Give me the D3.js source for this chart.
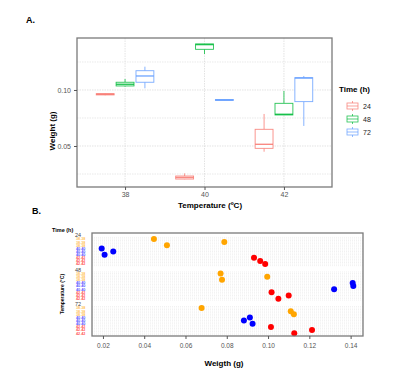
<!DOCTYPE html>
<html>
<head>
<meta charset="utf-8">
<script src="https://cdn.jsdelivr.net/npm/d3@7"></script>
<style>
  body { margin: 0; background: #fff; }
  svg { font-family: "Liberation Sans", Arial, sans-serif; }
</style>
</head>
<body>
<div id="chart"></div>
<script>
// ---- data ----
// panel A: weight boxplots by temperature and time
const temps = [38, 40, 42];
const times = ["24", "48", "72"];
const timeColors = ["#F8766D", "#00BA38", "#619CFF"];
// [min, q1, median, q3, max] per temperature (38, 40, 42)
const box24 = [[0.0953, 0.0956, 0.0962, 0.0967, 0.0970], [0.0203, 0.0205, 0.0219, 0.0232, 0.0256], [0.0449, 0.0479, 0.0515, 0.0649, 0.0786]];
const box48 = [[0.1031, 0.1036, 0.1051, 0.1069, 0.1098], [0.1321, 0.1363, 0.1405, 0.1411, 0.1411], [0.0777, 0.0777, 0.0783, 0.0881, 0.0991]];
const box72 = [[0.1015, 0.1069, 0.1125, 0.1172, 0.1208], [0.0906, 0.0908, 0.0911, 0.0915, 0.0917], [0.0679, 0.0896, 0.1106, 0.1110, 0.1125]];
const yTicksA = [0.05, 0.10];
const yMinorA = [0.025, 0.075, 0.125];

// panel B: individual weights, rows = temperature replicates within each time
const tempRows = ["38", "38", "38", "40", "40", "40", "42", "42", "42"];
const tempColors = { "38": "#FFA500", "40": "#0000FF", "42": "#FF0000" };
const weight24 = [0.0447, 0.0788, 0.0510, 0.0194, 0.0250, 0.0208, 0.0932, 0.0962, 0.0986];
const weight48 = [0.0770, 0.0996, 0.0777, 0.1410, 0.1413, 0.1320, 0.1017, 0.1100, 0.1050];
const weight72 = [0.0678, 0.1110, 0.1125, 0.0912, 0.0883, 0.0925, 0.1014, 0.1213, 0.1127];
const xTicksB = [0.02, 0.04, 0.06, 0.08, 0.10, 0.12, 0.14];

const boxes = [box24, box48, box72];
const weights = [weight24, weight48, weight72];

const svg = d3.select("#chart").append("svg")
  .attr("width", 403)
  .attr("height", 380);

// ================= Panel A =================
const A = { left: 77, right: 332, top: 38, bottom: 187 };

const xA = d3.scaleLinear().domain([36.79, 43.21]).range([A.left, A.right]);
const yA = d3.scaleLinear().domain([0.0134, 0.1464]).range([A.bottom, A.top]);
const dodge = 0.5, boxW = 0.45;

svg.append("text").attr("x", 26).attr("y", 23)
  .style("font-weight", "bold").style("font-size", "9px").text("A.");

// gridlines
const gA = svg.append("g");
gA.selectAll(".minor").data(yMinorA).enter().append("line")
  .attr("x1", A.left).attr("x2", A.right)
  .attr("y1", d => yA(d)).attr("y2", d => yA(d))
  .attr("stroke", "#e3e3e3").attr("stroke-width", 0.8).attr("stroke-dasharray", "1.5,1");
gA.selectAll(".major").data(yTicksA).enter().append("line")
  .attr("x1", A.left).attr("x2", A.right)
  .attr("y1", d => yA(d)).attr("y2", d => yA(d))
  .attr("stroke", "#dcdcdc").attr("stroke-width", 0.8).attr("stroke-dasharray", "1.5,1");
gA.selectAll(".vgrid").data(temps).enter().append("line")
  .attr("y1", A.top).attr("y2", A.bottom)
  .attr("x1", d => xA(d)).attr("x2", d => xA(d))
  .attr("stroke", "#dcdcdc").attr("stroke-width", 0.8).attr("stroke-dasharray", "1.5,1");

// boxplots
times.forEach((t, ti) => {
  const g = svg.append("g").attr("stroke", timeColors[ti]).attr("fill", "none").attr("stroke-opacity", 0.85);
  temps.forEach((temp, k) => {
    const s = boxes[ti][k];
    const cx = temp + (ti - 1) * dodge;
    const x0 = xA(cx - boxW / 2), x1 = xA(cx + boxW / 2);
    g.append("line").attr("x1", xA(cx)).attr("x2", xA(cx))
      .attr("y1", yA(s[0])).attr("y2", yA(s[1])).attr("stroke-width", 0.9);
    g.append("line").attr("x1", xA(cx)).attr("x2", xA(cx))
      .attr("y1", yA(s[3])).attr("y2", yA(s[4])).attr("stroke-width", 0.9);
    g.append("rect").attr("x", x0).attr("width", x1 - x0)
      .attr("y", yA(s[3])).attr("height", Math.max(1, yA(s[1]) - yA(s[3])))
      .attr("fill", "#fff").attr("stroke-width", 0.9);
    g.append("line").attr("x1", x0).attr("x2", x1)
      .attr("y1", yA(s[2])).attr("y2", yA(s[2])).attr("stroke-width", 1.4);
  });
});

// panel border
svg.append("rect").attr("x", A.left).attr("y", A.top)
  .attr("width", A.right - A.left).attr("height", A.bottom - A.top)
  .attr("fill", "none").attr("stroke", "#7a7a7a").attr("stroke-width", 1.3);

// axes
const xAxisA = svg.append("g").attr("transform", "translate(0," + A.bottom + ")")
  .call(d3.axisBottom(xA).tickValues(temps).tickSize(3).tickPadding(2).tickFormat(d3.format("d")));
const yAxisA = svg.append("g").attr("transform", "translate(" + A.left + ",0)")
  .call(d3.axisLeft(yA).tickValues(yTicksA).tickSize(3).tickPadding(3).tickFormat(d3.format(".2f")));
[xAxisA, yAxisA].forEach(ax => {
  ax.select(".domain").remove();
  ax.selectAll("line").attr("stroke", "#555");
  ax.selectAll("text").attr("fill", "#555").style("font-size", "7px").style("font-family", "inherit");
});

svg.append("text").attr("x", 210).attr("y", 208).attr("text-anchor", "middle")
  .style("font-weight", "bold").style("font-size", "8px").text("Temperature (ºC)");
svg.append("text").attr("transform", "translate(55,131) rotate(-90)").attr("text-anchor", "middle")
  .style("font-weight", "bold").style("font-size", "8px").text("Weight (g)");

// legend
svg.append("text").attr("x", 339).attr("y", 92)
  .style("font-weight", "bold").style("font-size", "8px").text("Time (h)");
times.forEach((t, ti) => {
  const cy = 106 + ti * 13;
  const lg = svg.append("g").attr("stroke", timeColors[ti]).attr("fill", "none").attr("stroke-opacity", 0.85);
  lg.append("line").attr("x1", 352.5).attr("x2", 352.5).attr("y1", cy - 5).attr("y2", cy + 5).attr("stroke-width", 0.8);
  lg.append("rect").attr("x", 347).attr("y", cy - 3).attr("width", 11).attr("height", 6)
    .attr("fill", "#fff").attr("stroke-width", 0.8);
  lg.append("line").attr("x1", 347).attr("x2", 358).attr("y1", cy).attr("y2", cy).attr("stroke-width", 0.8);
  svg.append("text").attr("x", 363).attr("y", cy + 2.5)
    .style("font-size", "7px").attr("fill", "#222").text(t);
});

// ================= Panel B =================
const B = { left: 92, right: 363, top: 233, bottom: 336 };

svg.append("text").attr("x", 32).attr("y", 214)
  .style("font-weight", "bold").style("font-size", "9px").text("B.");

// build the categorical rows: a header row per time, then nine replicate rows
const rowKeys = [];
times.forEach((t, ti) => {
  if (ti > 0) rowKeys.push("gap" + t);
  rowKeys.push("head" + t);
  tempRows.forEach((r, j) => rowKeys.push(t + "-" + j));
});

const xB = d3.scaleLinear().domain([0.0147, 0.146]).range([B.left, B.right]);
const yB = d3.scalePoint().domain(rowKeys).range([B.top, B.bottom]).padding(0.9);
const stepB = yB.step();

// dotted row gridlines (rows and half-rows)
const dataKeys = rowKeys.filter(k => k.indexOf("-") > 0);
const gridY = [];
dataKeys.forEach(k => { gridY.push(yB(k)); gridY.push(yB(k) - stepB / 2); });
times.forEach(t => gridY.push(yB(t + "-8") + stepB / 2));
svg.append("g").selectAll("line").data(gridY).enter().append("line")
  .attr("x1", B.left).attr("x2", B.right)
  .attr("y1", d => d).attr("y2", d => d)
  .attr("stroke", "#e2e2e2").attr("stroke-width", 0.5).attr("stroke-dasharray", "1,1");

// points
times.forEach((t, ti) => {
  svg.append("g").selectAll("circle").data(weights[ti]).enter().append("circle")
    .attr("cx", d => xB(d))
    .attr("cy", (d, j) => yB(t + "-" + j))
    .attr("r", 3)
    .attr("fill", (d, j) => tempColors[tempRows[j]]);
});

svg.append("rect").attr("x", B.left).attr("y", B.top)
  .attr("width", B.right - B.left).attr("height", B.bottom - B.top)
  .attr("fill", "none").attr("stroke", "#7a7a7a").attr("stroke-width", 1.3);

const xAxisB = svg.append("g").attr("transform", "translate(0," + B.bottom + ")")
  .call(d3.axisBottom(xB).tickValues(xTicksB).tickSize(3).tickPadding(4).tickFormat(d3.format(".2f")));
xAxisB.select(".domain").remove();
xAxisB.selectAll("line").attr("stroke", "#555");
xAxisB.selectAll("text").attr("fill", "#555").style("font-size", "6.5px").style("font-family", "inherit");

// y labels: time headers and tiny coloured temperature labels
const yLab = svg.append("g");
times.forEach(t => {
  yLab.append("text").attr("x", 81).attr("y", yB("head" + t) + 1.3)
    .attr("text-anchor", "end").style("font-size", "5.5px").attr("fill", "#444").text(t);
  tempRows.forEach((r, j) => {
    yLab.append("text").attr("x", 85.5).attr("y", yB(t + "-" + j) + 1.4)
      .attr("text-anchor", "end").style("font-size", "3.8px").style("font-weight", "bold")
      .attr("fill", tempColors[r]).attr("fill-opacity", 0.7).text(r + "." + r);
  });
});

svg.append("text").attr("x", 52).attr("y", 232)
  .style("font-weight", "bold").style("font-size", "5.5px").text("Time (h)");
svg.append("text").attr("transform", "translate(64,294) rotate(-90)").attr("text-anchor", "middle")
  .style("font-weight", "bold").style("font-size", "5px").text("Temperature (°C)");
svg.append("text").attr("x", 224).attr("y", 366).attr("text-anchor", "middle")
  .style("font-weight", "bold").style("font-size", "8px").text("Weigth (g)");
</script>
</body>
</html>
